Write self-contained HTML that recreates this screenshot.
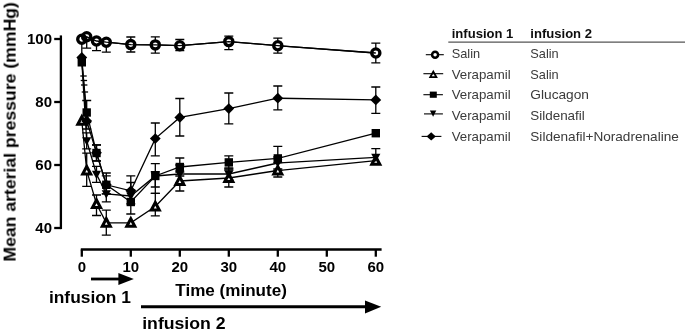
<!DOCTYPE html>
<html><head><meta charset="utf-8"><title>chart</title>
<style>html,body{margin:0;padding:0;background:#fff;}svg{display:block;}</style></head>
<body>
<svg width="685" height="333" viewBox="0 0 685 333">
<defs><filter id="soft" x="0" y="0" width="685" height="333" filterUnits="userSpaceOnUse"><feGaussianBlur stdDeviation="0.4"/></filter></defs>
<rect width="685" height="333" fill="#fff"/>
<g filter="url(#soft)">
<g stroke="#000" stroke-width="2.3" fill="none">
<path d="M60.9 35.4 V229.1"/>
<path d="M54.2 39 H61"/>
<path d="M54.2 102 H61"/>
<path d="M54.2 165 H61"/>
<path d="M54.2 228 H61"/>
<path d="M80.8 249.5 H381.6"/>
<path d="M81.8 249.5 V256.7"/>
<path d="M130.8 249.5 V256.7"/>
<path d="M179.8 249.5 V256.7"/>
<path d="M228.8 249.5 V256.7"/>
<path d="M277.8 249.5 V256.7"/>
<path d="M326.8 249.5 V256.7"/>
<path d="M375.8 249.5 V256.7"/>
</g>
<g font-family="Liberation Sans, sans-serif" font-weight="bold" font-size="15" fill="#000">
<text x="52" y="43.7" text-anchor="end">100</text>
<text x="52" y="106.7" text-anchor="end">80</text>
<text x="52" y="169.7" text-anchor="end">60</text>
<text x="52" y="232.7" text-anchor="end">40</text>
<text x="81.8" y="271.7" text-anchor="middle">0</text>
<text x="130.8" y="271.7" text-anchor="middle">10</text>
<text x="179.8" y="271.7" text-anchor="middle">20</text>
<text x="228.8" y="271.7" text-anchor="middle">30</text>
<text x="277.8" y="271.7" text-anchor="middle">40</text>
<text x="326.8" y="271.7" text-anchor="middle">50</text>
<text x="375.8" y="271.7" text-anchor="middle">60</text>
</g>
<g font-family="Liberation Sans, sans-serif" font-weight="bold" font-size="16" fill="#000">
<text transform="translate(15.6 261.6) rotate(-90)" textLength="259.5" lengthAdjust="spacingAndGlyphs">Mean arterial pressure (mmHg)</text>
<text x="175.3" y="296.2" textLength="111.6" lengthAdjust="spacingAndGlyphs">Time (minute)</text>
<text x="48.9" y="302.6" textLength="82.1" lengthAdjust="spacingAndGlyphs">infusion 1</text>
<text x="142.2" y="329.4" textLength="83.4" lengthAdjust="spacingAndGlyphs">infusion 2</text>
</g>
<path d="M91 279 H120" stroke="#000" stroke-width="2.8" fill="none"/>
<path d="M118.4 273 L133.8 279 L118.4 285 Z" fill="#000"/>
<path d="M141 306.8 H367" stroke="#000" stroke-width="3" fill="none"/>
<path d="M365 300.4 L381.2 306.8 L365 313.6 Z" fill="#000"/>
<g stroke="#000" stroke-width="1.3" fill="none">
<polyline points="81.8,39.2 86.7,36.8 96.5,41 106.3,42.2 130.8,44.6 155.3,44.9 179.8,45.7 228.8,41.6 277.8,45.7 375.8,53"/>
<path d="M86.7 36.8 V48.2 M82.2 48.2 H91.2"/>
<path d="M96.5 41 V50.6 M92.0 50.6 H101.0"/>
<path d="M106.3 42.2 V52.2 M101.8 52.2 H110.8"/>
<path d="M130.8 44.6 V37.0 M126.30000000000001 37.0 H135.3"/>
<path d="M130.8 44.6 V52.0 M126.30000000000001 52.0 H135.3"/>
<path d="M155.3 44.9 V36.9 M150.8 36.9 H159.8"/>
<path d="M155.3 44.9 V53.2 M150.8 53.2 H159.8"/>
<path d="M179.8 45.7 V39.5 M175.3 39.5 H184.3"/>
<path d="M179.8 45.7 V50.7 M175.3 50.7 H184.3"/>
<path d="M228.8 41.6 V36.1 M224.3 36.1 H233.3"/>
<path d="M228.8 41.6 V49.6 M224.3 49.6 H233.3"/>
<path d="M277.8 45.7 V38.2 M273.3 38.2 H282.3"/>
<path d="M277.8 45.7 V53.2 M273.3 53.2 H282.3"/>
<path d="M375.8 53 V43.1 M371.3 43.1 H380.3"/>
<path d="M375.8 53 V62.9 M371.3 62.9 H380.3"/>
<polyline points="81.8,120.8 86.7,170.5 96.5,204 106.3,222.8 130.8,222.8 155.3,206.5 179.8,181 228.8,178 277.8,170.5 375.8,160.7"/>
<path d="M86.7 170.5 V153.1 M82.2 153.1 H91.2"/>
<path d="M86.7 170.5 V186.3 M82.2 186.3 H91.2"/>
<path d="M96.5 204 V195.0 M92.0 195.0 H101.0"/>
<path d="M96.5 204 V215.5 M92.0 215.5 H101.0"/>
<path d="M106.3 222.8 V210.2 M101.8 210.2 H110.8"/>
<path d="M106.3 222.8 V235.2 M101.8 235.2 H110.8"/>
<path d="M155.3 206.5 V193.3 M150.8 193.3 H159.8"/>
<path d="M155.3 206.5 V215.9 M150.8 215.9 H159.8"/>
<path d="M179.8 181 V172.0 M175.3 172.0 H184.3"/>
<path d="M179.8 181 V191.0 M175.3 191.0 H184.3"/>
<path d="M228.8 178 V170.0 M224.3 170.0 H233.3"/>
<path d="M228.8 178 V187.0 M224.3 187.0 H233.3"/>
<path d="M277.8 170.5 V162.5 M273.3 162.5 H282.3"/>
<path d="M277.8 170.5 V177.0 M273.3 177.0 H282.3"/>
<path d="M375.8 160.7 V148.7 M371.3 148.7 H380.3"/>
<polyline points="81.8,62.3 86.7,112.5 96.5,153 106.3,184.8 130.8,202 155.3,176 179.8,167 228.8,162.4 277.8,158.4 375.8,133.2"/>
<path d="M86.7 112.5 V100.5 M82.2 100.5 H91.2"/>
<path d="M86.7 112.5 V122.5 M82.2 122.5 H91.2"/>
<path d="M96.5 153 V145.0 M92.0 145.0 H101.0"/>
<path d="M96.5 153 V161.0 M92.0 161.0 H101.0"/>
<path d="M106.3 184.8 V175.8 M101.8 175.8 H110.8"/>
<path d="M106.3 184.8 V193.8 M101.8 193.8 H110.8"/>
<path d="M130.8 202 V190.0 M126.30000000000001 190.0 H135.3"/>
<path d="M130.8 202 V214.0 M126.30000000000001 214.0 H135.3"/>
<path d="M155.3 176 V163.6 M150.8 163.6 H159.8"/>
<path d="M155.3 176 V193.3 M150.8 193.3 H159.8"/>
<path d="M179.8 167 V158.0 M175.3 158.0 H184.3"/>
<path d="M179.8 167 V176.0 M175.3 176.0 H184.3"/>
<path d="M228.8 162.4 V155.9 M224.3 155.9 H233.3"/>
<path d="M228.8 162.4 V168.9 M224.3 168.9 H233.3"/>
<path d="M277.8 158.4 V146.4 M273.3 146.4 H282.3"/>
<path d="M277.8 158.4 V170.4 M273.3 170.4 H282.3"/>
<polyline points="81.8,61 86.7,140.8 96.5,174.3 106.3,193.8 130.8,196 155.3,176 179.8,174 228.8,174 277.8,163 375.8,157.3"/>
<path d="M86.7 140.8 V132.8 M82.2 132.8 H91.2"/>
<path d="M86.7 140.8 V148.8 M82.2 148.8 H91.2"/>
<path d="M96.5 174.3 V166.3 M92.0 166.3 H101.0"/>
<path d="M96.5 174.3 V182.3 M92.0 182.3 H101.0"/>
<path d="M106.3 193.8 V185.8 M101.8 185.8 H110.8"/>
<path d="M106.3 193.8 V201.8 M101.8 201.8 H110.8"/>
<path d="M130.8 196 V182.5 M126.30000000000001 182.5 H135.3"/>
<path d="M155.3 176 V171.7 M150.8 171.7 H159.8"/>
<path d="M155.3 176 V187.0 M150.8 187.0 H159.8"/>
<path d="M179.8 174 V165.0 M175.3 165.0 H184.3"/>
<path d="M179.8 174 V183.0 M175.3 183.0 H184.3"/>
<path d="M228.8 174 V168.0 M224.3 168.0 H233.3"/>
<path d="M228.8 174 V180.0 M224.3 180.0 H233.3"/>
<path d="M277.8 163 V157.0 M273.3 157.0 H282.3"/>
<path d="M277.8 163 V169.0 M273.3 169.0 H282.3"/>
<polyline points="81.8,57.5 86.7,121 96.5,152.8 106.3,184.8 130.8,190.8 155.3,138.6 179.8,117.4 228.8,108.6 277.8,98.2 375.8,99.9"/>
<path d="M81.8 57.5 V39.0 M77.3 39.0 H86.3"/>
<path d="M86.7 121 V129.0 M82.2 129.0 H91.2"/>
<path d="M96.5 152.8 V144.8 M92.0 144.8 H101.0"/>
<path d="M96.5 152.8 V160.8 M92.0 160.8 H101.0"/>
<path d="M106.3 184.8 V173.0 M101.8 173.0 H110.8"/>
<path d="M106.3 184.8 V193.8 M101.8 193.8 H110.8"/>
<path d="M130.8 190.8 V175.8 M126.30000000000001 175.8 H135.3"/>
<path d="M130.8 190.8 V203.8 M126.30000000000001 203.8 H135.3"/>
<path d="M155.3 138.6 V123.0 M150.8 123.0 H159.8"/>
<path d="M155.3 138.6 V155.8 M150.8 155.8 H159.8"/>
<path d="M179.8 117.4 V98.5 M175.3 98.5 H184.3"/>
<path d="M179.8 117.4 V136.0 M175.3 136.0 H184.3"/>
<path d="M228.8 108.6 V93.0 M224.3 93.0 H233.3"/>
<path d="M228.8 108.6 V123.9 M224.3 123.9 H233.3"/>
<path d="M277.8 98.2 V86.0 M273.3 86.0 H282.3"/>
<path d="M277.8 98.2 V109.8 M273.3 109.8 H282.3"/>
<path d="M375.8 99.9 V87.0 M371.3 87.0 H380.3"/>
<path d="M375.8 99.9 V113.4 M371.3 113.4 H380.3"/>
<path d="M80.3 76 H86.7"/>
<path d="M80.7 80.5 H87.10000000000001"/>
<path d="M81.0 85 H87.4"/>
<path d="M81.7 92 H88.10000000000001"/>
</g>
<circle cx="81.8" cy="39.2" r="4.2" fill="#fff"/>
<circle cx="86.7" cy="36.8" r="4.2" fill="#fff"/>
<circle cx="96.5" cy="41" r="4.2" fill="#fff"/>
<circle cx="106.3" cy="42.2" r="4.2" fill="#fff"/>
<circle cx="130.8" cy="44.6" r="4.2" fill="#fff"/>
<circle cx="155.3" cy="44.9" r="4.2" fill="#fff"/>
<circle cx="179.8" cy="45.7" r="4.2" fill="#fff"/>
<circle cx="228.8" cy="41.6" r="4.2" fill="#fff"/>
<circle cx="277.8" cy="45.7" r="4.2" fill="#fff"/>
<circle cx="375.8" cy="53" r="4.2" fill="#fff"/>
<polyline points="81.8,39.2 86.7,36.8 96.5,41 106.3,42.2 130.8,44.6 155.3,44.9 179.8,45.7 228.8,41.6 277.8,45.7 375.8,53" stroke="#000" stroke-width="1.3" fill="none"/>
<circle cx="81.8" cy="39.2" r="4.1" fill="none" stroke="#000" stroke-width="3.3"/>
<circle cx="86.7" cy="36.8" r="4.1" fill="none" stroke="#000" stroke-width="3.3"/>
<circle cx="96.5" cy="41" r="4.1" fill="none" stroke="#000" stroke-width="3.3"/>
<circle cx="106.3" cy="42.2" r="4.1" fill="none" stroke="#000" stroke-width="3.3"/>
<circle cx="130.8" cy="44.6" r="4.1" fill="none" stroke="#000" stroke-width="3.3"/>
<circle cx="155.3" cy="44.9" r="4.1" fill="none" stroke="#000" stroke-width="3.3"/>
<circle cx="179.8" cy="45.7" r="4.1" fill="none" stroke="#000" stroke-width="3.3"/>
<circle cx="228.8" cy="41.6" r="4.1" fill="none" stroke="#000" stroke-width="3.3"/>
<circle cx="277.8" cy="45.7" r="4.1" fill="none" stroke="#000" stroke-width="3.3"/>
<circle cx="375.8" cy="53" r="4.1" fill="none" stroke="#000" stroke-width="3.3"/>
<path d="M77.80 124.30 L85.80 124.30 L81.8 116.80 Z" fill="#fff" stroke="#000" stroke-width="3.00" stroke-linejoin="miter"/>
<path d="M82.70 174.00 L90.70 174.00 L86.7 166.50 Z" fill="#fff" stroke="#000" stroke-width="3.00" stroke-linejoin="miter"/>
<path d="M92.50 207.50 L100.50 207.50 L96.5 200.00 Z" fill="#fff" stroke="#000" stroke-width="3.00" stroke-linejoin="miter"/>
<path d="M102.30 226.30 L110.30 226.30 L106.3 218.80 Z" fill="#fff" stroke="#000" stroke-width="3.00" stroke-linejoin="miter"/>
<path d="M126.80 226.30 L134.80 226.30 L130.8 218.80 Z" fill="#fff" stroke="#000" stroke-width="3.00" stroke-linejoin="miter"/>
<path d="M151.30 210.00 L159.30 210.00 L155.3 202.50 Z" fill="#fff" stroke="#000" stroke-width="3.00" stroke-linejoin="miter"/>
<path d="M175.80 184.50 L183.80 184.50 L179.8 177.00 Z" fill="#fff" stroke="#000" stroke-width="3.00" stroke-linejoin="miter"/>
<path d="M224.80 181.50 L232.80 181.50 L228.8 174.00 Z" fill="#fff" stroke="#000" stroke-width="3.00" stroke-linejoin="miter"/>
<path d="M273.80 174.00 L281.80 174.00 L277.8 166.50 Z" fill="#fff" stroke="#000" stroke-width="3.00" stroke-linejoin="miter"/>
<path d="M371.80 164.20 L379.80 164.20 L375.8 156.70 Z" fill="#fff" stroke="#000" stroke-width="3.00" stroke-linejoin="miter"/>
<rect x="77.6" y="58.1" width="8.4" height="8.4" fill="#000"/>
<rect x="82.5" y="108.3" width="8.4" height="8.4" fill="#000"/>
<rect x="92.3" y="148.8" width="8.4" height="8.4" fill="#000"/>
<rect x="102.1" y="180.6" width="8.4" height="8.4" fill="#000"/>
<rect x="126.6" y="197.8" width="8.4" height="8.4" fill="#000"/>
<rect x="151.1" y="171.8" width="8.4" height="8.4" fill="#000"/>
<rect x="175.6" y="162.8" width="8.4" height="8.4" fill="#000"/>
<rect x="224.6" y="158.2" width="8.4" height="8.4" fill="#000"/>
<rect x="273.6" y="154.2" width="8.4" height="8.4" fill="#000"/>
<rect x="371.6" y="129.0" width="8.4" height="8.4" fill="#000"/>
<path d="M77.2 57.4 L86.4 57.4 L81.8 65.6 Z" fill="#000"/>
<path d="M82.1 137.2 L91.3 137.2 L86.7 145.4 Z" fill="#000"/>
<path d="M91.9 170.7 L101.1 170.7 L96.5 178.9 Z" fill="#000"/>
<path d="M101.7 190.2 L110.9 190.2 L106.3 198.4 Z" fill="#000"/>
<path d="M126.2 192.4 L135.4 192.4 L130.8 200.6 Z" fill="#000"/>
<path d="M150.7 172.4 L159.9 172.4 L155.3 180.6 Z" fill="#000"/>
<path d="M175.2 170.4 L184.4 170.4 L179.8 178.6 Z" fill="#000"/>
<path d="M224.2 170.4 L233.4 170.4 L228.8 178.6 Z" fill="#000"/>
<path d="M273.2 159.4 L282.4 159.4 L277.8 167.6 Z" fill="#000"/>
<path d="M371.2 153.7 L380.4 153.7 L375.8 161.9 Z" fill="#000"/>
<path d="M76.4 57.5 L81.8 52.1 L87.2 57.5 L81.8 62.9 Z" fill="#000"/>
<path d="M81.3 121 L86.7 115.6 L92.1 121 L86.7 126.4 Z" fill="#000"/>
<path d="M91.1 152.8 L96.5 147.4 L101.9 152.8 L96.5 158.2 Z" fill="#000"/>
<path d="M100.9 184.8 L106.3 179.4 L111.7 184.8 L106.3 190.2 Z" fill="#000"/>
<path d="M125.4 190.8 L130.8 185.4 L136.2 190.8 L130.8 196.2 Z" fill="#000"/>
<path d="M149.9 138.6 L155.3 133.2 L160.7 138.6 L155.3 144.0 Z" fill="#000"/>
<path d="M174.4 117.4 L179.8 112.0 L185.2 117.4 L179.8 122.8 Z" fill="#000"/>
<path d="M223.4 108.6 L228.8 103.2 L234.2 108.6 L228.8 114.0 Z" fill="#000"/>
<path d="M272.4 98.2 L277.8 92.8 L283.2 98.2 L277.8 103.6 Z" fill="#000"/>
<path d="M370.4 99.9 L375.8 94.5 L381.2 99.9 L375.8 105.3 Z" fill="#000"/>
<path d="M448.3 42.2 H685" stroke="#555" stroke-width="1.3"/>
<g font-family="Liberation Sans, sans-serif" font-weight="bold" font-size="12.5" fill="#111">
<text x="451.7" y="37.8" textLength="61.7" lengthAdjust="spacingAndGlyphs">infusion 1</text>
<text x="530.3" y="37.8" textLength="61.7" lengthAdjust="spacingAndGlyphs">infusion 2</text>
</g>
<g font-family="Liberation Sans, sans-serif" font-size="12.4" fill="#3a3a3a">
<text x="451.7" y="58.3" textLength="28.4" lengthAdjust="spacingAndGlyphs">Salin</text><text x="530.3" y="58.3" textLength="28.4" lengthAdjust="spacingAndGlyphs">Salin</text>
<text x="451.7" y="79" textLength="59" lengthAdjust="spacingAndGlyphs">Verapamil</text><text x="530.3" y="79" textLength="28.4" lengthAdjust="spacingAndGlyphs">Salin</text>
<text x="451.7" y="99.3" textLength="59" lengthAdjust="spacingAndGlyphs">Verapamil</text><text x="530.3" y="99.3" textLength="58.7" lengthAdjust="spacingAndGlyphs">Glucagon</text>
<text x="451.7" y="120.1" textLength="59" lengthAdjust="spacingAndGlyphs">Verapamil</text><text x="530.3" y="120.1" textLength="54.5" lengthAdjust="spacingAndGlyphs">Sildenafil</text>
<text x="451.7" y="140.8" textLength="59" lengthAdjust="spacingAndGlyphs">Verapamil</text><text x="530.3" y="140.8" textLength="148.5" lengthAdjust="spacingAndGlyphs">Sildenafil+Noradrenaline</text>
</g>
<path d="M425.8 54.7 H443.8" stroke="#000" stroke-width="1.1"/>
<circle cx="435.1" cy="54.7" r="3.0" fill="#fff" stroke="#000" stroke-width="2.5"/>
<path d="M423.4 73.7 H443.2" stroke="#000" stroke-width="1.1"/>
<path d="M428.70 77.90 L437.90 77.90 L433.3 69.70 Z M431.80 76.20 L434.80 76.20 L433.3 73.60 Z" fill="#000" fill-rule="evenodd"/>
<path d="M423.4 94.7 H442.9" stroke="#000" stroke-width="1.1"/>
<rect x="429.8" y="91.60000000000001" width="7" height="6.2" fill="#000"/>
<path d="M424 113.9 H442.9" stroke="#000" stroke-width="1.1"/>
<path d="M429.90000000000003 110.5 L436.3 110.5 L433.1 116.80000000000001 Z" fill="#000"/>
<path d="M421.6 136.4 H441.4" stroke="#000" stroke-width="1.1"/>
<path d="M426.59999999999997 136.4 L431.2 132.20000000000002 L435.8 136.4 L431.2 140.6 Z" fill="#000"/>
</g>
</svg>
</body></html>
